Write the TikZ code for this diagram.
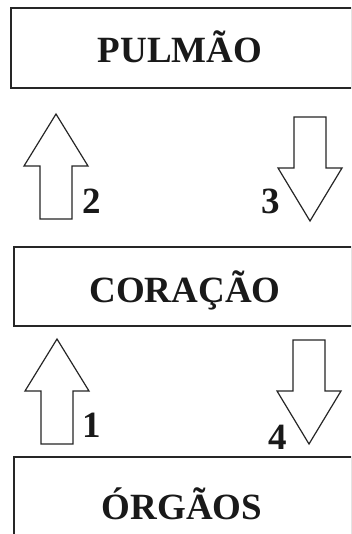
\documentclass[tikz,border=0pt]{standalone}
\usepackage{fontspec}
\setmainfont{Liberation Serif}
\begin{document}
\begin{tikzpicture}[x=1pt,y=-1pt,
  organbox/.style={draw=black!85,line width=1.6pt,rectangle,inner sep=0pt,outer sep=0pt},
  bigtext/.style={font=\bfseries\fontsize{37}{40}\selectfont,text=black!90,inner sep=0pt,anchor=base},
  numtext/.style={font=\bfseries\fontsize{37}{40}\selectfont,text=black!90,inner sep=0pt},
  blockarrow/.style={draw=black!85,line width=1.2pt,line join=miter,fill=white},
  uparr/.pic={\path[blockarrow] (-16,105) -- (-16,52) -- (-32,52) -- (0,0) -- (32,52) -- (16,52) -- (16,105) -- cycle;},
  downarr/.pic={\path[blockarrow] (-16,0) -- (16,0) -- (16,51) -- (32,51) -- (0,104) -- (-32,51) -- (-16,51) -- cycle;}
]
\useasboundingbox (0,0) rectangle (351,534);
\clip (0,0) rectangle (351,534);
\fill[white] (0,0) rectangle (351,534);
% boxes
\node[organbox,minimum width=341pt,minimum height=80pt] (pulmao) at (181.5,48) {};
\node[organbox,minimum width=338pt,minimum height=79pt] (coracao) at (183,286.5) {};
\node[organbox,minimum width=338pt,minimum height=86pt] (orgaos) at (183,500) {};
% texts
\node[bigtext] (tpulmao) at (180,63) {PULMÃO};
\node[bigtext] (tcoracao) at (185,302) {CORAÇÃO};
\node[bigtext] (torgaos) at (182,519) {ÓRGÃOS};
% arrows
\pic at (56,114) {uparr};
\pic at (310,117) {downarr};
\pic at (57,339) {uparr};
\pic at (309,340) {downarr};
% numbers
\node[numtext] (n2) at (92,201) {2};
\node[numtext] (n3) at (271,201) {3};
\node[numtext] (n1) at (92,425) {1};
\node[numtext] (n4) at (278,437) {4};
\end{tikzpicture}
\end{document}
